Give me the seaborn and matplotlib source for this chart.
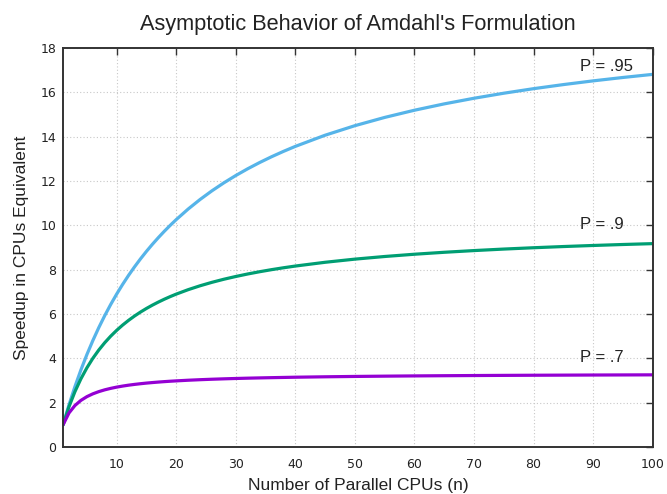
import matplotlib
matplotlib.use("Agg")
import matplotlib.pyplot as plt
import seaborn as sns
import pandas as pd

n_cpus = [1, 2, 3, 4, 5, 6, 7, 8, 9, 10, 11, 12, 13, 14, 15, 16, 17, 18, 19, 20,
          22, 24, 26, 28, 30, 32, 34, 36, 38, 40, 45, 50, 55, 60, 65, 70, 75, 80,
          85, 90, 95, 100]
speedup_95 = [1.000, 1.905, 2.727, 3.478, 4.167, 4.800, 5.385, 5.926, 6.429, 6.897,
              7.333, 7.742, 8.125, 8.485, 8.824, 9.143, 9.444, 9.730, 10.000, 10.256,
              10.732, 11.163, 11.556, 11.915, 12.245, 12.549, 12.830, 13.091, 13.333,
              13.559, 14.063, 14.493, 14.865, 15.190, 15.476, 15.730, 15.957, 16.162,
              16.346, 16.514, 16.667, 16.807]
speedup_90 = [1.000, 1.818, 2.500, 3.077, 3.571, 4.000, 4.375, 4.706, 5.000, 5.263,
              5.500, 5.714, 5.909, 6.087, 6.250, 6.400, 6.538, 6.667, 6.786, 6.897,
              7.097, 7.273, 7.429, 7.568, 7.692, 7.805, 7.907, 8.000, 8.085, 8.163,
              8.333, 8.475, 8.594, 8.696, 8.784, 8.861, 8.929, 8.989, 9.043, 9.091,
              9.135, 9.174]
speedup_70 = [1.000, 1.538, 1.875, 2.105, 2.273, 2.400, 2.500, 2.581, 2.647, 2.703,
              2.750, 2.791, 2.826, 2.857, 2.885, 2.909, 2.931, 2.951, 2.969, 2.985,
              3.014, 3.038, 3.059, 3.077, 3.093, 3.107, 3.119, 3.130, 3.140, 3.150,
              3.169, 3.185, 3.198, 3.209, 3.218, 3.226, 3.233, 3.239, 3.244, 3.249,
              3.253, 3.257]
series_names = ["P = .95", "P = .9", "P = .7"]
label_pos = [(87.8, 17.15), (87.8, 10.05), (87.8, 4.05)]
colors = ["#56b4e9", "#009e73", "#9400d3"]

frames = []
for name, vals in zip(series_names, [speedup_95, speedup_90, speedup_70]):
    frames.append(pd.DataFrame({"n": n_cpus, "S": vals, "series": name}))
df = pd.concat(frames, ignore_index=True)

sns.set_style("white")
plt.rcParams["font.family"] = ["DejaVu Sans"]
TXT = ["Liberation Sans", "DejaVu Sans"]

fig = plt.figure(figsize=(6.67, 4.94), dpi=100)
ax = fig.add_axes([0.0945, 0.095, 0.884, 0.808])

sns.lineplot(data=df, x="n", y="S", hue="series", palette=colors,
             hue_order=series_names, linewidth=2.3, legend=False, ax=ax)

for name, (x, y) in zip(series_names, label_pos):
    ax.text(x, y, name, fontsize=12, color="#222222", ha="left", va="center",
            family=TXT)

ax.set_xlim(1, 100)
ax.set_ylim(0, 18)
ax.set_xticks(range(10, 101, 10))
ax.set_yticks(range(0, 19, 2))
ax.grid(True, color="#c8c8c8", linestyle=(0, (1, 2)), linewidth=0.8)
ax.tick_params(direction="in", top=True, right=True, length=5, width=1,
               labelsize=9, colors="#333333", labelcolor="#222222")
ax.tick_params(axis="x", pad=8)
ax.tick_params(axis="y", pad=5)
for s in ax.spines.values():
    s.set_color("#333333")
    s.set_linewidth(1.4)

ax.set_xlabel("Number of Parallel CPUs (n)", fontsize=12.5, color="#222222",
              labelpad=5, family=TXT)
ax.set_ylabel("Speedup in CPUs Equivalent", fontsize=12.5, color="#222222",
              labelpad=8, family=TXT)
ax.set_title("Asymptotic Behavior of Amdahl's Formulation", fontsize=15.7,
             color="#222222", pad=13, family=TXT)

fig.savefig("out.png", dpi=100)
